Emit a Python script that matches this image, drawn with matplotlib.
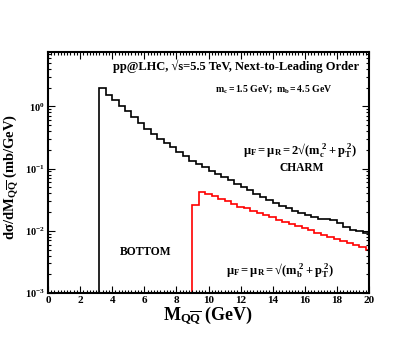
import numpy as np
import matplotlib
matplotlib.use("Agg")
import matplotlib.pyplot as plt
from matplotlib.ticker import MultipleLocator, LogLocator, FixedLocator, FixedFormatter, NullFormatter

plt.rcParams['font.family'] = ['Liberation Serif', 'DejaVu Serif']
plt.rcParams['font.weight'] = 'bold'
plt.rcParams['mathtext.fontset'] = 'custom'
plt.rcParams['mathtext.rm'] = 'Liberation Serif'
plt.rcParams['mathtext.it'] = 'Liberation Serif:italic'
plt.rcParams['mathtext.bf'] = 'Liberation Serif:bold'
plt.rcParams['mathtext.default'] = 'rm'

# Charm histogram (bin edges 3.2 .. 20.0, width 0.4)
charm_edges = [3.2 + 0.4 * i for i in range(43)]
charm_vals = [1.95, 1.55, 1.26, 1.02, 0.83, 0.676, 0.55, 0.427, 0.355, 0.302,
              0.257, 0.219, 0.186, 0.158, 0.135, 0.117, 0.105, 0.093, 0.083, 0.074,
              0.066, 0.0575, 0.0513, 0.0447, 0.0398, 0.0355, 0.0316, 0.0282, 0.0251, 0.0229,
              0.0209, 0.0191, 0.0178, 0.0166, 0.0155, 0.0155, 0.0151, 0.0135, 0.0115, 0.0105,
              0.0098, 0.0093]

# Bottom histogram (bin edges 9.0 .. 20.2, width 0.4)
bottom_edges = [9.0 + 0.4 * i for i in range(29)]
bottom_vals = [0.0263, 0.0427, 0.0398, 0.0363, 0.0331, 0.0302, 0.0269, 0.0245, 0.0229, 0.0209,
               0.0195, 0.0178, 0.0166, 0.0151, 0.0141, 0.0129, 0.0120, 0.0110, 0.0102, 0.0093,
               0.0087, 0.0079, 0.0074, 0.0069, 0.0063, 0.0059, 0.0054, 0.0050]

xticks = [0, 2, 4, 6, 8, 10, 12, 14, 16, 18, 20]
yticks = [1e-3, 1e-2, 1e-1, 1e0]
ytick_labels = [r"$\mathbf{10^{-3}}$", r"$\mathbf{10^{-2}}$", r"$\mathbf{10^{-1}}$", r"$\mathbf{10^{0}}$"]

fig = plt.figure(figsize=(4.15, 3.46), dpi=100)
ax = fig.add_axes([48/415, 1-293/346, (369-48)/415, (293-51.7)/346])

ax.stairs(charm_vals, charm_edges, baseline=1e-3, color='black', lw=1.2)
ax.stairs(bottom_vals, bottom_edges, baseline=1e-3, color='red', lw=1.2)

ax.set_yscale('log')
ax.set_xlim(0, 20)
ax.set_ylim(1e-3, 7.6)

ax.xaxis.set_major_locator(FixedLocator(xticks))
ax.xaxis.set_minor_locator(MultipleLocator(0.2))
ax.yaxis.set_major_locator(FixedLocator(yticks))
ax.yaxis.set_major_formatter(FixedFormatter(ytick_labels))
ax.yaxis.set_minor_locator(LogLocator(base=10, subs=np.arange(2, 10)))
ax.yaxis.set_minor_formatter(NullFormatter())
ax.set_xticklabels([str(t) for t in xticks], fontsize=8, fontweight='bold')
for lab in ax.get_yticklabels():
    lab.set_fontsize(7.5)

ax.tick_params(which='both', direction='in', top=True, right=True, width=0.8)
ax.tick_params(which='major', length=5, pad=2)
ax.tick_params(which='minor', length=2.5)
for s in ax.spines.values():
    s.set_linewidth(1.5)

ax.set_xlabel(r"$\mathbf{M_{Q\overline{Q}}\ (GeV)}$", fontsize=13, labelpad=0)
ax.set_ylabel(r"$\mathbf{d\sigma/dM_{Q\overline{Q}}\ (mb/GeV)}$", fontsize=10.5)
ax.yaxis.set_label_coords(-0.085, 0.48)

fig.text(359/415, 1-66/346, "pp@LHC, √s=5.5 TeV, Next-to-Leading Order", ha='right', va='center',
         fontsize=9, fontweight='bold')
fig.text(215/415, 1-89/346, r"$\mathbf{m_c=1.5\ GeV;\ m_b=4.5\ GeV}$", ha='left', va='center', fontsize=7)
fig.text(243/415, 1-150/346, r"$\mu_F=\mu_R=2$√$(m_c^{\ 2}+p_T^{\ 2})$", ha='left', va='center',
         fontsize=9, fontweight='normal')
fig.text(302/415, 1-168/346, "CHARM", ha='center', va='center', fontsize=8.3, fontweight='bold')
fig.text(146/415, 1-252/346, "BOTTOM", ha='center', va='center', fontsize=8.3, fontweight='bold')
fig.text(226/415, 1-270/346, r"$\mu_F=\mu_R=$√$(m_b^{\ 2}+p_T^{\ 2})$", ha='left', va='center',
         fontsize=9, fontweight='normal')

fig.savefig("out.png", dpi=100)
